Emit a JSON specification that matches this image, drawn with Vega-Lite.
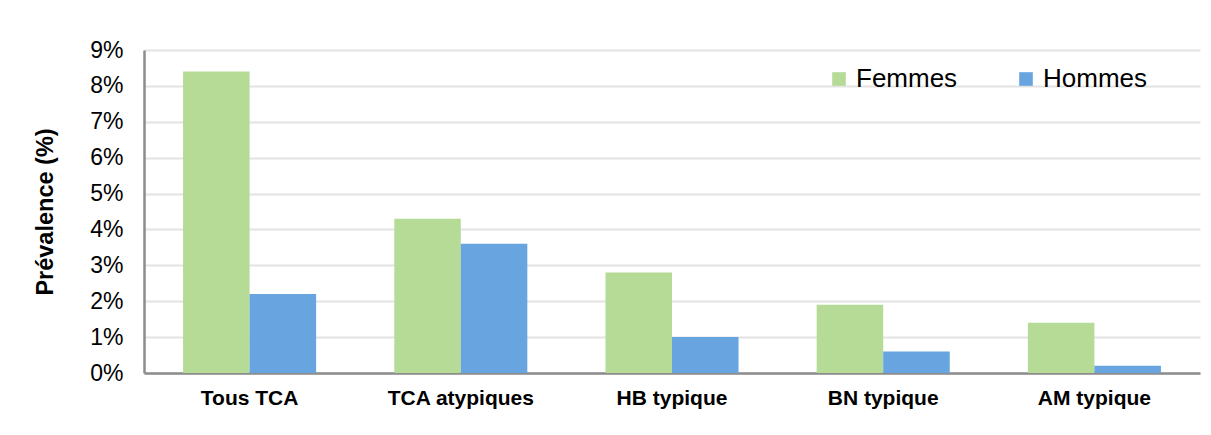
{
  "$schema": "https://vega.github.io/schema/vega-lite/v6.json",
  "width": 1056,
  "height": 323,
  "autosize": {"type": "none"},
  "padding": {"left": 144, "top": 50, "right": 11, "bottom": 62},
  "background": "white",
  "config": {
    "font": "Liberation Sans",
    "view": {"stroke": null}
  },
  "data": {
    "values": [
      {"categorie": "Tous TCA", "sexe": "Femmes", "prevalence": 8.4},
      {"categorie": "Tous TCA", "sexe": "Hommes", "prevalence": 2.2},
      {"categorie": "TCA atypiques", "sexe": "Femmes", "prevalence": 4.3},
      {"categorie": "TCA atypiques", "sexe": "Hommes", "prevalence": 3.6},
      {"categorie": "HB typique", "sexe": "Femmes", "prevalence": 2.8},
      {"categorie": "HB typique", "sexe": "Hommes", "prevalence": 1.0},
      {"categorie": "BN typique", "sexe": "Femmes", "prevalence": 1.9},
      {"categorie": "BN typique", "sexe": "Hommes", "prevalence": 0.6},
      {"categorie": "AM typique", "sexe": "Femmes", "prevalence": 1.4},
      {"categorie": "AM typique", "sexe": "Hommes", "prevalence": 0.2}
    ]
  },
  "mark": {"type": "bar"},
  "encoding": {
    "x": {
      "field": "categorie",
      "type": "nominal",
      "sort": null,
      "scale": {"paddingInner": 0.37, "paddingOuter": 0.185},
      "axis": {
        "title": null,
        "labelAngle": 0,
        "labelFont": "Liberation Sans",
        "labelFontSize": 21,
        "labelFontWeight": "bold",
        "labelColor": "black",
        "labelPadding": 14,
        "ticks": false,
        "domainColor": "#8c8c8c",
        "domainWidth": 2.5,
        "grid": false
      }
    },
    "xOffset": {"field": "sexe", "type": "nominal", "sort": ["Femmes", "Hommes"]},
    "y": {
      "field": "prevalence",
      "type": "quantitative",
      "scale": {"domain": [0, 9], "nice": false},
      "axis": {
        "title": "Prévalence (%)",
        "titleFont": "Liberation Sans",
        "titleFontSize": 23.5,
        "titleFontWeight": "bold",
        "titleColor": "black",
        "titlePadding": 32,
        "values": [0, 1, 2, 3, 4, 5, 6, 7, 8, 9],
        "labelExpr": "datum.value + '%'",
        "labelFont": "Liberation Sans",
        "labelFontSize": 23,
        "labelColor": "black",
        "labelPadding": 21,
        "ticks": false,
        "domainColor": "#8c8c8c",
        "domainWidth": 2.5,
        "gridColor": "#e3e3e3",
        "gridWidth": 2
      }
    },
    "color": {
      "field": "sexe",
      "type": "nominal",
      "scale": {"domain": ["Femmes", "Hommes"], "range": ["#b5db97", "#67a4e0"]},
      "legend": {
        "title": null,
        "orient": "none",
        "legendX": 682,
        "legendY": 16,
        "direction": "horizontal",
        "columns": 2,
        "symbolType": "square",
        "symbolSize": 185,
        "symbolStrokeWidth": 0,
        "labelFont": "Liberation Sans",
        "labelFontSize": 26,
        "labelColor": "black",
        "labelOffset": 4,
        "columnPadding": 55
      }
    }
  }
}
